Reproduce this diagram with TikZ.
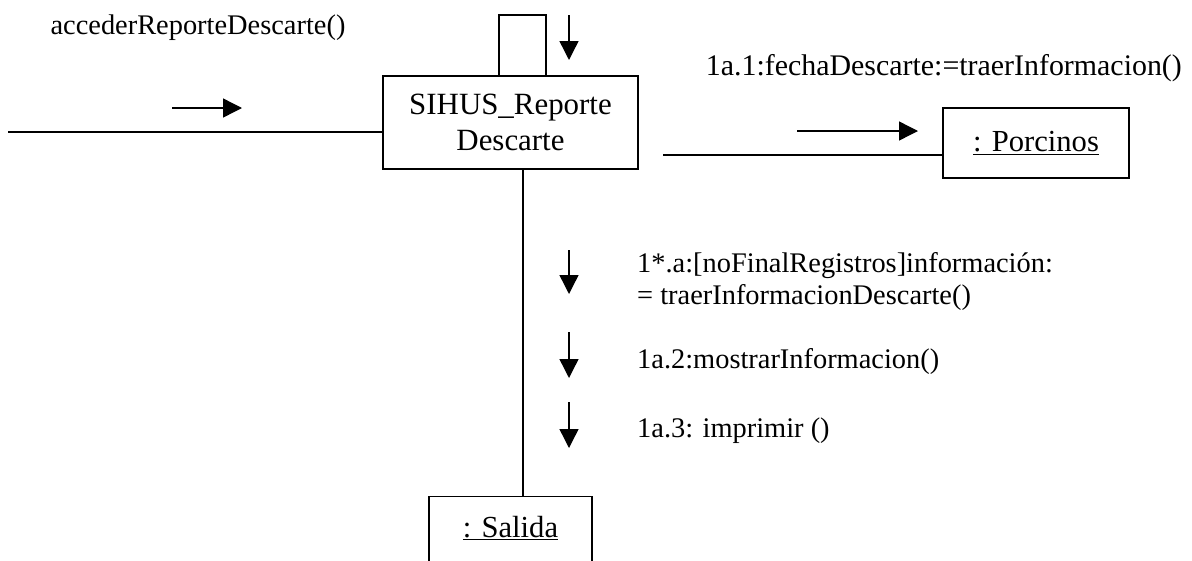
\documentclass[tikz,border=0pt]{standalone}
\usepackage{fontspec}
\setmainfont{Liberation Serif}
\usetikzlibrary{arrows.meta}
\begin{document}
\begin{tikzpicture}[x=1pt,y=-1pt,
  obj/.style={draw,line width=1.4pt,inner sep=0pt,align=center},
  conn/.style={line width=1.4pt},
  msg/.style={line width=1.4pt,-{Triangle[length=19pt,width=19pt]}},
  lbl/.style={inner sep=0pt,font=\fontsize{28.4}{33}\selectfont},
  every node/.style={text=black}]
\clip (0,0) rectangle (1192,560);
\useasboundingbox (0,0) rectangle (1192,560);
% objects
\node[obj,minimum width=255pt,minimum height=93pt,font=\fontsize{30.9}{36}\selectfont] (main) at (510.5,122.5) {SIHUS\_Reporte\\Descarte};
\node[obj,minimum width=186pt,minimum height=70pt,font=\fontsize{30.6}{34}\selectfont] (porc) at (1036,143) {\underline{: Porcinos}};
\node[obj,minimum width=163pt,minimum height=80pt,anchor=north] (sal) at (510.5,496) {};
\node[font=\fontsize{30.6}{34}\selectfont,inner sep=0pt] (saltxt) at (510.5,528) {\underline{: Salida}};
% connectors
\coordinate (inL) at (8,132);
\draw[conn] (inL) -- (main.west |- inL);
\coordinate (pL) at (663,155);
\draw[conn] (pL) -- (porc.west |- pL);
\coordinate (lA) at (499,76);
\coordinate (lB) at (546,76);
\draw[conn] (lA) -- ++(0,-61) -| (lB);
\coordinate (vT) at (523,169);
\draw[conn] (vT) -- (vT |- sal.north);
% message arrows
\coordinate (a0s) at (172,108); \coordinate (a0e) at (242,108);
\draw[msg] (a0s) -- (a0e);
\coordinate (a1s) at (569,15); \coordinate (a1e) at (569,60);
\draw[msg] (a1s) -- (a1e);
\coordinate (a2s) at (797,131); \coordinate (a2e) at (918,131);
\draw[msg] (a2s) -- (a2e);
\coordinate (a3s) at (569,250); \coordinate (a3e) at (569,294);
\draw[msg] (a3s) -- (a3e);
\coordinate (a4s) at (569,332); \coordinate (a4e) at (569,378);
\draw[msg] (a4s) -- (a4e);
\coordinate (a5s) at (569,402); \coordinate (a5e) at (569,448);
\draw[msg] (a5s) -- (a5e);
% labels
\node[lbl] (t0) at (198,28) {accederReporteDescarte()};
\node[lbl,anchor=east,font=\fontsize{29.9}{34}\selectfont] (t1) at (1182,68) {1a.1:fechaDescarte:=traerInformacion()};
\node[lbl,anchor=base west] (t2) at (637,272) {1*.a:[noFinalRegistros]información:};
\node[lbl,anchor=base west] (t3) at (637,304) {= traerInformacionDescarte()};
\node[lbl,anchor=base west] (t4) at (637,368) {1a.2:mostrarInformacion()};
\node[lbl,anchor=base west] (t5) at (637,437) {1a.3: imprimir ()};
\end{tikzpicture}
\end{document}
